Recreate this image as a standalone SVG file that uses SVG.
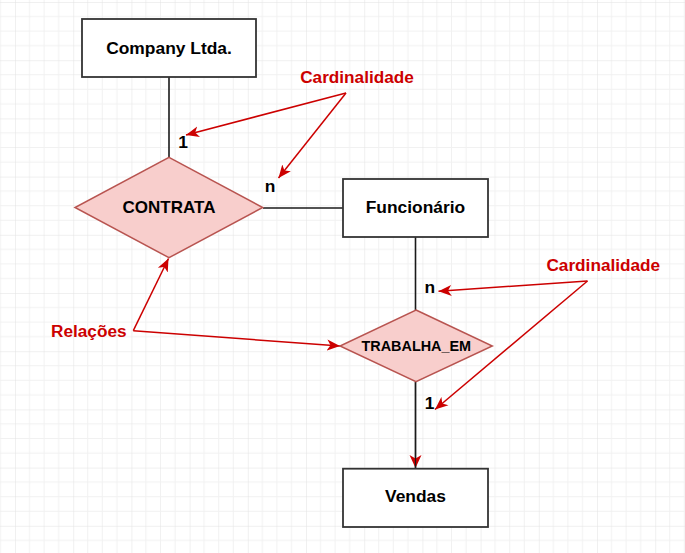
<svg xmlns="http://www.w3.org/2000/svg" width="685" height="553" viewBox="0 0 685 553">
  <style>
    .ent { fill: #ffffff; stroke: #333333; stroke-width: 1.8; }
    .rel { fill: #f8cecc; stroke: #b85450; stroke-width: 1.5; }
    .t { font-family: "Liberation Sans", Arial, sans-serif; font-weight: bold; fill: #000000; text-anchor: middle; }
    .red { font-family: "Liberation Sans", Arial, sans-serif; font-weight: bold; fill: #cc0000; text-anchor: middle; font-size: 17.2px; }
    .conn { stroke: #1a1a1a; stroke-width: 1.6; fill: none; }
    .rarrow { stroke: #cc0000; stroke-width: 1.5; fill: none; marker-end: url(#redHead); }
  </style>
  <defs>
    <pattern id="grid" patternUnits="userSpaceOnUse" x="15" y="2" width="58.2" height="58.2">
      <path d="M14.55 0V58.2M29.1 0V58.2M43.65 0V58.2M0 14.55H58.2M0 29.1H58.2M0 43.65H58.2" stroke="#f1f1f1" stroke-width="1"/>
      <path d="M0 0V58.2M0 0H58.2" stroke="#e2e2e2" stroke-width="1"/>
    </pattern>
    <marker id="redHead" markerUnits="userSpaceOnUse" markerWidth="14" markerHeight="12" refX="13" refY="6" orient="auto">
      <path d="M0,0.5 L13,6 L0,11.5 L3.5,6 Z" fill="#cc0000"/>
    </marker>
    <marker id="darkHead" markerUnits="userSpaceOnUse" markerWidth="14" markerHeight="14" refX="13" refY="6.5" orient="auto">
      <path d="M0,0.5 L13,6.5 L0,12.5 L3.5,6.5 Z" fill="#cc0000"/>
    </marker>
  </defs>
  <rect width="685" height="553" fill="#ffffff"/>
  <rect width="685" height="553" fill="url(#grid)"/>

  <g id="connectors">
    <line class="conn" x1="169" y1="77" x2="169" y2="157"/>
    <line class="conn" x1="263" y1="208" x2="343" y2="208"/>
    <line class="conn" x1="415.5" y1="237" x2="415.5" y2="310"/>
    <line x1="415.5" y1="382" x2="415.5" y2="468" stroke="#1a1a1a" stroke-width="1.6" marker-end="url(#darkHead)"/>
    <line x1="415.5" y1="382" x2="415.5" y2="468" stroke="#1a1a1a" stroke-width="1.2"/>
    <line class="rarrow" x1="346" y1="93" x2="186" y2="135"/>
    <line class="rarrow" x1="346" y1="93" x2="278.5" y2="178"/>
    <line class="rarrow" x1="587.5" y1="281" x2="438.5" y2="291.3"/>
    <line class="rarrow" x1="587.5" y1="281" x2="435" y2="409.5"/>
    <polyline class="rarrow" points="133.3,330.7 168.5,258.5"/>
    <polyline class="rarrow" points="133.3,330.7 340,346"/>
  </g>

  <g id="company">
    <rect class="ent" x="82" y="19" width="174" height="58"/>
    <text class="t" x="169" y="54.3" font-size="17.4">Company Ltda.</text>
  </g>
  <g id="contrata">
    <polygon class="rel" points="169,157.3 262.7,207.5 169,257.7 75,207.5"/>
    <text class="t" x="169" y="213.3" font-size="17">CONTRATA</text>
  </g>
  <g id="funcionario">
    <rect class="ent" x="343" y="179" width="145" height="58"/>
    <text class="t" x="415.5" y="213.3" font-size="17.4">Funcionário</text>
  </g>
  <g id="trabalha_em">
    <polygon class="rel" points="416,310 492.3,346 416,381.7 340,346"/>
    <text class="t" x="416.3" y="351" font-size="14.4">TRABALHA_EM</text>
  </g>
  <g id="vendas">
    <rect class="ent" x="343" y="468.7" width="145" height="58.3"/>
    <text class="t" x="415.5" y="502.3" font-size="17.4">Vendas</text>
  </g>

  <g id="labels">
    <text class="t" x="183" y="148.3" font-size="17.4">1</text>
    <text class="t" x="270" y="191.7" font-size="17.4">n</text>
    <text class="t" x="429.7" y="293.3" font-size="17.4">n</text>
    <text class="t" x="429.5" y="409.3" font-size="17.4">1</text>
    <text class="red" x="357" y="83.3">Cardinalidade</text>
    <text class="red" x="603.3" y="270.7">Cardinalidade</text>
    <text class="red" x="88.8" y="336.7">Relações</text>
  </g>
</svg>
